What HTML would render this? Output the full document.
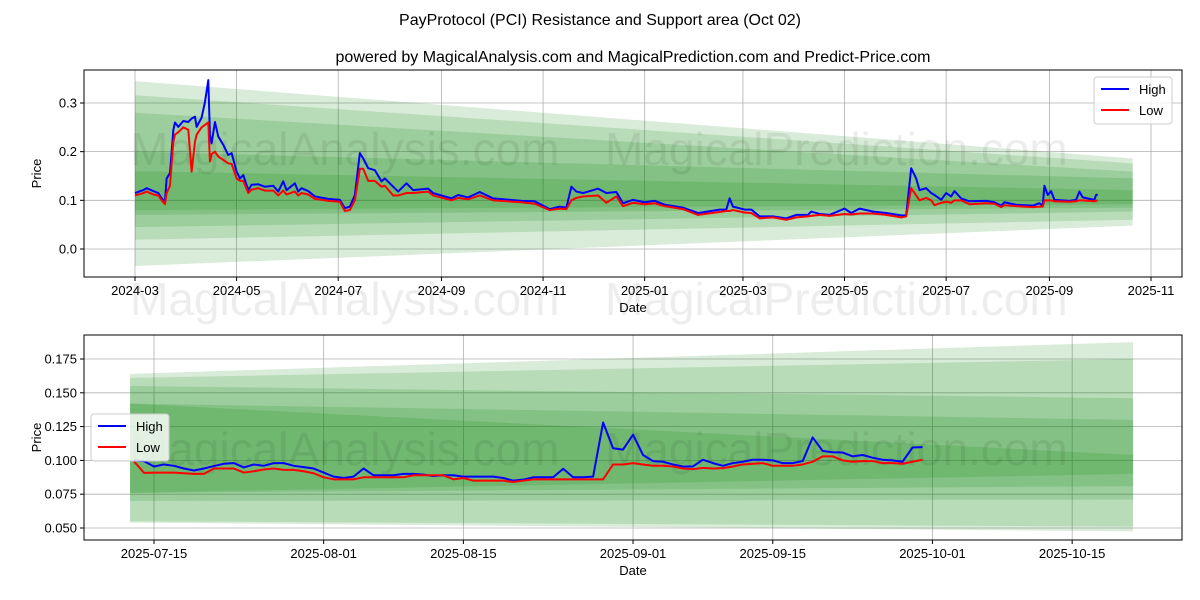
<!DOCTYPE html>
<html><head><meta charset="utf-8"><style>
body{margin:0;background:#fff;}
svg{display:block;font-family:"Liberation Sans","DejaVu Sans",sans-serif;}
</style></head><body>
<svg id="c" width="1200" height="600" viewBox="0 0 1200 600" xmlns="http://www.w3.org/2000/svg">
<text x="600" y="25" text-anchor="middle" font-size="16">PayProtocol (PCI) Resistance and Support area (Oct 02)</text>
<text x="633" y="62" text-anchor="middle" font-size="16">powered by MagicalAnalysis.com and MagicalPrediction.com and Predict-Price.com</text>
</svg>
<script>
// ---------- Top chart data ----------
const topDays = [0,5,7,11,14,16,18,19,21,23,24,26,29,32,34,36,37,40,42,44,45,46,48,50,53,56,58,61,63,65,68,70,74,78,83,86,89,91,96,98,100,104,108,116,123,126,129,132,135,137,140,144,148,150,155,158,163,167,176,179,190,194,200,207,215,232,240,249,255,259,262,265,269,278,283,289,293,299,306,312,318,329,338,344,351,355,357,359,366,370,375,383,391,397,404,406,411,417,426,430,435,443,451,460,463,466,469,471,475,478,480,484,487,490,492,496,501,511,516,520,522,529,539,543,545,546,548,550,552,561,565,567,569,576,577,578];
const topHigh = [0.115,0.121,0.125,0.119,0.115,0.104,0.098,0.145,0.156,0.244,0.26,0.251,0.263,0.261,0.268,0.272,0.251,0.27,0.302,0.347,0.234,0.217,0.261,0.231,0.214,0.193,0.197,0.159,0.145,0.152,0.121,0.132,0.133,0.128,0.130,0.118,0.139,0.121,0.135,0.118,0.125,0.119,0.108,0.103,0.101,0.084,0.087,0.111,0.197,0.186,0.166,0.162,0.139,0.145,0.128,0.118,0.135,0.121,0.124,0.115,0.104,0.111,0.106,0.117,0.104,0.099,0.098,0.082,0.087,0.085,0.128,0.118,0.115,0.124,0.115,0.117,0.094,0.101,0.096,0.099,0.091,0.085,0.074,0.077,0.081,0.081,0.104,0.087,0.081,0.081,0.067,0.067,0.063,0.070,0.070,0.077,0.072,0.070,0.083,0.074,0.083,0.077,0.074,0.069,0.069,0.166,0.145,0.121,0.125,0.115,0.111,0.101,0.115,0.108,0.119,0.104,0.098,0.099,0.096,0.089,0.096,0.091,0.089,0.094,0.089,0.130,0.111,0.119,0.101,0.099,0.101,0.118,0.106,0.101,0.111,0.112];
const topLow = [0.110,0.115,0.118,0.112,0.110,0.100,0.092,0.115,0.130,0.220,0.235,0.240,0.250,0.245,0.159,0.220,0.235,0.250,0.255,0.260,0.180,0.195,0.200,0.190,0.183,0.176,0.175,0.145,0.140,0.140,0.115,0.122,0.125,0.120,0.120,0.110,0.120,0.112,0.118,0.110,0.115,0.112,0.103,0.099,0.097,0.078,0.080,0.100,0.165,0.165,0.140,0.140,0.128,0.130,0.110,0.110,0.115,0.115,0.118,0.110,0.100,0.105,0.102,0.110,0.100,0.096,0.093,0.080,0.083,0.082,0.100,0.105,0.108,0.110,0.095,0.108,0.088,0.095,0.092,0.094,0.088,0.082,0.070,0.073,0.076,0.078,0.078,0.080,0.075,0.074,0.063,0.065,0.060,0.065,0.067,0.068,0.070,0.068,0.072,0.071,0.073,0.073,0.070,0.065,0.067,0.125,0.110,0.100,0.105,0.100,0.090,0.095,0.097,0.095,0.100,0.100,0.092,0.094,0.093,0.086,0.090,0.088,0.086,0.087,0.087,0.100,0.100,0.100,0.098,0.097,0.098,0.100,0.100,0.098,0.099,0.100];
const topBands = [[-0.035,0.345,0.048,0.186],[0.019,0.316,0.06,0.176],[0.045,0.28,0.077,0.159],[0.07,0.2,0.085,0.145],[0.08,0.16,0.092,0.121]];
const topYTicks = [0.0,0.1,0.2,0.3];
const topXTickLabels = ["2024-03","2024-05","2024-07","2024-09","2024-11","2025-01","2025-03","2025-05","2025-07","2025-09","2025-11"];
const topXTickDays = [0,61,122,184,245,306,365,426,487,549,610];

// ---------- Bottom chart data ----------
const botHigh = [0.100,0.0995,0.0955,0.097,0.096,0.094,0.0925,0.094,0.0958,0.0975,0.098,0.0948,0.097,0.096,0.098,0.098,0.096,0.095,0.094,0.091,0.088,0.087,0.088,0.094,0.089,0.089,0.089,0.090,0.090,0.0895,0.0885,0.089,0.089,0.088,0.088,0.088,0.088,0.087,0.085,0.0858,0.0875,0.0875,0.0875,0.0938,0.0875,0.0875,0.088,0.128,0.109,0.108,0.119,0.104,0.0995,0.099,0.097,0.0955,0.0955,0.1005,0.098,0.096,0.098,0.099,0.1005,0.1005,0.100,0.098,0.098,0.0995,0.117,0.107,0.106,0.1058,0.103,0.104,0.102,0.1005,0.100,0.099,0.1095,0.1098];
const botLow = [0.0993,0.0908,0.091,0.091,0.091,0.0905,0.090,0.090,0.094,0.094,0.094,0.091,0.092,0.0933,0.094,0.093,0.093,0.092,0.0905,0.0875,0.086,0.086,0.086,0.0875,0.0875,0.0875,0.0875,0.0875,0.089,0.089,0.089,0.089,0.086,0.087,0.085,0.085,0.085,0.085,0.084,0.085,0.086,0.086,0.086,0.086,0.086,0.086,0.086,0.086,0.097,0.097,0.098,0.097,0.096,0.096,0.0955,0.094,0.0935,0.0945,0.094,0.0943,0.0955,0.097,0.0975,0.098,0.096,0.096,0.096,0.097,0.099,0.103,0.103,0.100,0.099,0.0995,0.0995,0.098,0.098,0.0975,0.099,0.1005];
const botBands = [[0.054,0.164,0.0475,0.1875],[0.055,0.161,0.051,0.175],[0.07,0.155,0.071,0.146],[0.076,0.142,0.081,0.13],[0.076,0.142,0.09,0.104]];
const botYTicks = [0.050,0.075,0.100,0.125,0.150,0.175];
const botXTickLabels = ["2025-07-15","2025-08-01","2025-08-15","2025-09-01","2025-09-15","2025-10-01","2025-10-15"];
const botXTickDays = [2,19,33,50,64,80,94];

const NS="http://www.w3.org/2000/svg";
const svg=document.getElementById('c');
function mk(tag,attrs,parent){const e=document.createElementNS(NS,tag);for(const k in attrs)e.setAttribute(k,attrs[k]);(parent||svg).appendChild(e);return e;}

function drawChart(cfg){
  const g=mk('g',{});
  
  
  const X=d=>cfg.x0+(d-cfg.d0)*cfg.xs;
  const Y=v=>cfg.y0-(v-cfg.v0)*cfg.ys;
  cfg.yTicks.forEach(v=>{
    const l=mk('line',{x1:cfg.L,x2:cfg.R,y1:Y(v),y2:Y(v),stroke:'#b0b0b0','stroke-width':0.8},g);
    
    
  });
  cfg.xDays.forEach(d=>{
    const l=mk('line',{x1:X(d),x2:X(d),y1:cfg.T,y2:cfg.B,stroke:'#b0b0b0','stroke-width':0.8},g);
    
    
  });
  cfg.bands.forEach(b=>{
    const p=mk('polygon',{points:`${X(cfg.bs)},${Y(b[0])} ${X(cfg.be)},${Y(b[2])} ${X(cfg.be)},${Y(b[3])} ${X(cfg.bs)},${Y(b[1])}`,fill:'rgb(0,128,0)','fill-opacity':0.15},g);
    
    
  });
  cfg.wm.forEach(w=>{
    const t=mk('text',{x:w[0],y:w[1],'font-size':46,fill:'#000','fill-opacity':0.07},g);
    t.textContent=w[2];
    
    
  });
  const ser=[[cfg.high,'#0000ff','high-line'],[cfg.low,'#ff0000','low-line']];
  ser.forEach(s=>{
    const pts=s[0].map((v,i)=>X(cfg.days[i])+','+Y(v)).join(' ');
    const pl=mk('polyline',{points:pts,fill:'none',stroke:s[1],'stroke-width':2,'stroke-linejoin':'round'},g);
    
    
  });
  const fr=mk('rect',{x:cfg.L,y:cfg.T,width:cfg.R-cfg.L,height:cfg.B-cfg.T,fill:'none',stroke:'#000','stroke-width':1},g);
  
  
  cfg.yTicks.forEach(v=>{
    mk('line',{x1:cfg.L-4,x2:cfg.L,y1:Y(v),y2:Y(v),stroke:'#000'},g);
    const t=mk('text',{x:cfg.L-7,y:Y(v)+4.5,'font-size':13,'text-anchor':'end'},g);
    t.textContent=cfg.yFmt(v);
    
    
  });
  cfg.xDays.forEach((d,i)=>{
    mk('line',{x1:X(d),x2:X(d),y1:cfg.B,y2:cfg.B+4,stroke:'#000'},g);
    const t=mk('text',{x:X(d),y:cfg.B+18,'font-size':13,'text-anchor':'middle'},g);
    t.textContent=cfg.xLabels[i];
    
    
  });
  const xt=mk('text',{x:(cfg.L+cfg.R)/2,y:cfg.B+35,'font-size':13,'text-anchor':'middle'},g);
  xt.textContent='Date';
  
  
  const yt=mk('text',{x:0,y:0,'font-size':13,'text-anchor':'middle',transform:`translate(${cfg.L-43},${(cfg.T+cfg.B)/2}) rotate(-90)`},g);
  yt.textContent='Price';
  
  
  const lg=mk('g',{},g);
  
  
  const lx=cfg.leg[0],ly=cfg.leg[1];
  mk('rect',{x:lx,y:ly,width:78,height:47,rx:3,fill:'#fff','fill-opacity':0.8,stroke:'#ccc'},lg);
  [['High','#0000ff'],['Low','#ff0000']].forEach((e,i)=>{
    const eg=mk('g',{},lg);
    
    
    mk('line',{x1:lx+7,x2:lx+35,y1:ly+12+i*21,y2:ly+12+i*21,stroke:e[1],'stroke-width':2},eg);
    const t=mk('text',{x:lx+45,y:ly+17+i*21,'font-size':13},eg);
    t.textContent=e[0];
  });
}

drawChart({name:'top-chart',L:84,R:1182,T:70,B:277,x0:135,d0:0,xs:1.6656,y0:249,v0:0,ys:486.7,
  days:topDays,high:topHigh,low:topLow,bands:topBands,bs:0,be:599,
  yTicks:topYTicks,yFmt:v=>v.toFixed(1),xDays:topXTickDays,xLabels:topXTickLabels,leg:[1094,77],
  wm:[[130,165,'MagicalAnalysis.com'],[605,165,'MagicalPrediction.com'],[130,315,'MagicalAnalysis.com'],[605,315,'MagicalPrediction.com']]});

const botDays=botHigh.map((v,i)=>i);
drawChart({name:'bottom-chart',L:84,R:1182,T:335,B:540,x0:154,d0:2,xs:9.98,y0:528,v0:0.05,ys:1352,
  days:botDays,high:botHigh,low:botLow,bands:botBands,bs:-0.4,be:100.1,
  yTicks:botYTicks,yFmt:v=>v.toFixed(3),xDays:botXTickDays,xLabels:botXTickLabels,leg:[91,414],
  wm:[[130,465,'MagicalAnalysis.com'],[605,465,'MagicalPrediction.com']]});
</script>
</body></html>
